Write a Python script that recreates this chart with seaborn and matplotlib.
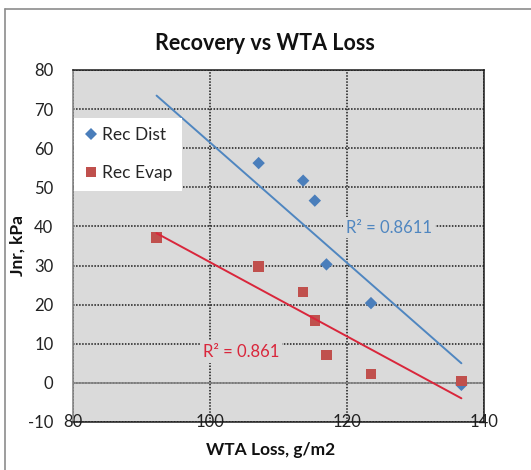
import matplotlib
matplotlib.use('Agg')
import matplotlib.pyplot as plt
from matplotlib.lines import Line2D
import numpy as np
import pandas as pd
import seaborn as sns

# values
wta_loss = [92.2, 107.1, 113.6, 115.3, 117.0, 123.5, 136.7]
rec_dist = [63.4, 56.2, 51.7, 46.6, 30.3, 20.4, -0.5]
rec_evap = [37.2, 29.8, 23.2, 16.0, 7.1, 2.3, 0.5]
series_names = ['Rec Dist', 'Rec Evap']
r2_labels = ['R\u00b2 = 0.8611', 'R\u00b2 = 0.861']
x_ticks = [80, 100, 120, 140]
y_ticks = [-10, 0, 10, 20, 30, 40, 50, 60, 70, 80]

blue = '#4a7ebb'
red = '#c0504d'
blue_line = '#4f86c0'
red_line = '#d9263b'
plot_bg = '#dadada'

sns.set_style('white')
plt.rcParams['font.family'] = ['Lato', 'DejaVu Sans']
plt.rcParams['axes.unicode_minus'] = False

df = pd.DataFrame({
    'wta': wta_loss * 2,
    'jnr': rec_dist + rec_evap,
    'series': [series_names[0]] * len(wta_loss) + [series_names[1]] * len(wta_loss),
})

W, H = 531, 470
fig = plt.figure(figsize=(W / 100, H / 100), dpi=100)
ax = fig.add_axes([73 / W, 1 - 422 / H, 411 / W, 352 / H])
ax.set_facecolor(plot_bg)

sns.scatterplot(data=df, x='wta', y='jnr', hue='series', style='series', size='series',
                palette={series_names[0]: blue, series_names[1]: red},
                markers={series_names[0]: 'D', series_names[1]: 's'},
                sizes={series_names[0]: 40, series_names[1]: 58},
                edgecolor='none', linewidth=0, ax=ax, zorder=3)

sns.regplot(x=wta_loss, y=rec_dist, scatter=False, ci=None, truncate=True,
            line_kws={'color': blue_line, 'lw': 1.4, 'zorder': 4}, ax=ax)
sns.regplot(x=wta_loss, y=rec_evap, scatter=False, ci=None, truncate=True,
            line_kws={'color': red_line, 'lw': 1.4, 'zorder': 4}, ax=ax)

ax.set_xlim(80, 140)
ax.set_ylim(-10, 80)
ax.set_xticks(x_ticks)
ax.set_yticks(y_ticks)
ax.set_xlabel('')
ax.set_ylabel('')

dots = (0, (1, 1))
ax.grid(True, color='#1a1a1a', linestyle=dots, linewidth=1.1)
ax.set_axisbelow(True)
for side in ['top', 'right', 'bottom']:
    ax.spines[side].set_linestyle(dots)
    ax.spines[side].set_color('#1a1a1a')
    ax.spines[side].set_linewidth(1.1)
ax.spines['left'].set_color('#868686')
ax.spines['left'].set_linewidth(1.2)
ax.axhline(0, color='#868686', lw=1.2, zorder=2)

ax.tick_params(axis='y', length=3.6, width=1, color='#868686', pad=10.5,
               labelsize=12, labelcolor='#222222')
ax.tick_params(axis='x', length=0, pad=0, labelsize=12, labelcolor='#222222')
for lbl in ax.get_xticklabels():
    lbl.set_va('center')

# R squared labels
ax.text(119.9, 39.7, r2_labels[0], color=blue_line, fontsize=12, va='center', ha='left',
        bbox=dict(facecolor=plot_bg, edgecolor='none', pad=2), zorder=5)
ax.text(98.95, 7.9, r2_labels[1], color=red_line, fontsize=12, va='center', ha='left',
        bbox=dict(facecolor=plot_bg, edgecolor='none', pad=2), zorder=5)

handles, labels = ax.get_legend_handles_labels()
leg = ax.legend(handles, labels, loc='upper left', bbox_to_anchor=(0.002, 0.864),
                borderaxespad=0, frameon=True, facecolor='white', edgecolor='none',
                framealpha=1, fancybox=False, fontsize=12.5, labelspacing=1.25,
                handletextpad=0.15, handlelength=0.9, borderpad=0.55, markerscale=1.0)
leg.set_zorder(6)

fig.text(265 / W, 1 - 50 / H, 'Recovery vs WTA Loss', ha='center', va='baseline',
         fontsize=15.5, fontweight='bold', color='#111111')
fig.text(271 / W, 1 - 455 / H, 'WTA Loss, g/m2', ha='center', va='baseline',
         fontsize=12.5, fontweight='bold', color='#111111')
fig.text(18 / W, 1 - 245 / H, 'Jnr, kPa', ha='center', va='center', rotation=90,
         fontsize=12.5, fontweight='bold', color='#111111')

# chart frame (cropped on the right and bottom in the reference)
fig.add_artist(Line2D([5 / W, 1], [1 - 9 / H, 1 - 9 / H], color='#8c8c8c', lw=1.2))
fig.add_artist(Line2D([5 / W, 5 / W], [0, 1 - 9 / H], color='#8c8c8c', lw=1.2))

fig.savefig('out.png', dpi=100, facecolor='white')
